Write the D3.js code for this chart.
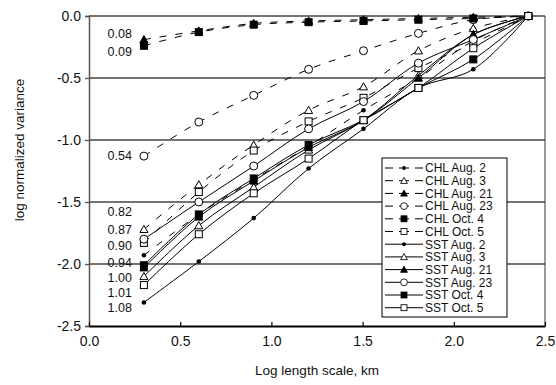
<!DOCTYPE html>
<html>
<head>
  <meta charset="utf-8" />
  <title>Variance vs length scale</title>
  <style>
    body { margin: 0; background: #fff; }
    text { font-family: "Liberation Sans", Arial, sans-serif; fill: #111; }
  </style>
  <script src="https://cdnjs.cloudflare.com/ajax/libs/d3/7.8.5/d3.min.js"></script>
</head>
<body>
  <div id="chart"></div>
  <script>
    // log2 length steps (km)
    var xs = [0.301, 0.602, 0.903, 1.204, 1.505, 1.806, 2.107, 2.408];

    var names = ['CHL Aug. 2', 'CHL Aug. 3', 'CHL Aug. 21', 'CHL Aug. 23', 'CHL Oct. 4', 'CHL Oct. 5',
                 'SST Aug. 2', 'SST Aug. 3', 'SST Aug. 21', 'SST Aug. 23', 'SST Oct. 4', 'SST Oct. 5'];
    var shapes = ['dot', 'tri', 'trif', 'circ', 'sqf', 'sq', 'dot', 'tri', 'trif', 'circ', 'sqf', 'sq'];

    var chlAug2  = [-1.93, -1.60, -1.32, -1.05, -0.76, -0.50, -0.20, 0];
    var chlAug3  = [-1.72, -1.36, -1.04, -0.76, -0.57, -0.28, -0.10, 0];
    var chlAug21 = [-0.19, -0.12, -0.06, -0.04, -0.03, -0.02, -0.01, 0];
    var chlAug23 = [-1.13, -0.855, -0.64, -0.43, -0.28, -0.14, -0.03, 0];
    var chlOct4  = [-0.24, -0.13, -0.07, -0.05, -0.04, -0.03, -0.02, 0];
    var chlOct5  = [-1.83, -1.42, -1.085, -0.85, -0.66, -0.42, -0.22, 0];
    var sstAug2  = [-2.31, -1.98, -1.63, -1.23, -0.91, -0.58, -0.43, 0];
    var sstAug3  = [-2.10, -1.69, -1.38, -1.08, -0.84, -0.48, -0.15, 0];
    var sstAug21 = [-2.03, -1.62, -1.33, -1.06, -0.84, -0.50, -0.15, 0];
    var sstAug23 = [-1.80, -1.50, -1.21, -0.91, -0.69, -0.38, -0.19, 0];
    var sstOct4  = [-2.01, -1.60, -1.31, -1.04, -0.84, -0.58, -0.35, 0];
    var sstOct5  = [-2.17, -1.76, -1.43, -1.15, -0.84, -0.58, -0.26, 0];

    var allSeries = [chlAug2, chlAug3, chlAug21, chlAug23, chlOct4, chlOct5,
                     sstAug2, sstAug3, sstAug21, sstAug23, sstOct4, sstOct5];

    // slope labels at the left of the first points
    var slopeText = ['0.08', '0.09', '0.54', '0.82', '0.87', '0.90', '0.94', '1.00', '1.01', '1.08'];
    var slopeY    = [-0.14, -0.29, -1.13, -1.58, -1.72, -1.85, -1.99, -2.11, -2.23, -2.35];
    var slopeX = 0.235;

    var xTicks = [0, 0.5, 1.0, 1.5, 2.0, 2.5];
    var yTicks = [0, -0.5, -1.0, -1.5, -2.0, -2.5];

    var W = 556, H = 385;
    var margin = { top: 16, right: 11, bottom: 59, left: 89 };
    var w = W - margin.left - margin.right,
      h = H - margin.top - margin.bottom;

    var svg = d3.select('#chart').append('svg')
      .attr('width', W).attr('height', H);
    var g = svg.append('g').attr('transform', 'translate(' + margin.left + ',' + margin.top + ')');

    var x = d3.scaleLinear().domain([0, 2.5]).range([0, w]);
    var y = d3.scaleLinear().domain([-2.5, 0]).range([h, 0]);

    // gridlines
    g.selectAll('.grid').data(yTicks.slice(0, 5)).enter().append('line')
      .attr('x1', 0).attr('x2', w)
      .attr('y1', d => y(d)).attr('y2', d => y(d))
      .attr('stroke', '#444').attr('stroke-width', 1.3);

    // right border
    g.append('line').attr('x1', w).attr('x2', w).attr('y1', 0).attr('y2', h)
      .attr('stroke', '#333').attr('stroke-width', 1);

    // y axis
    var yAxis = d3.axisLeft(y).tickValues(yTicks).tickSize(4).tickPadding(4);
    var ya = g.append('g').call(yAxis);
    ya.select('.domain').attr('stroke', '#555').attr('stroke-width', 1.5);
    ya.selectAll('.tick line').attr('stroke', '#555').attr('stroke-width', 1.3);
    ya.selectAll('text').attr('font-size', 14).attr('font-family', '"Liberation Sans", Arial, sans-serif')
      .text(d => d3.format('.1f')(d).replace('−', '-'));

    // x axis
    var xAxis = d3.axisBottom(x).tickValues(xTicks).tickFormat(d3.format('.1f')).tickSizeInner(-4).tickSizeOuter(0).tickPadding(10);
    var xa = g.append('g').attr('transform', 'translate(0,' + h + ')').call(xAxis);
    xa.select('.domain').attr('stroke', '#000').attr('stroke-width', 2);
    xa.selectAll('.tick line').attr('stroke', '#000').attr('stroke-width', 1.2);
    xa.selectAll('text').attr('font-size', 14).attr('font-family', '"Liberation Sans", Arial, sans-serif');

    // axis titles
    svg.append('text').attr('x', margin.left + w / 2).attr('y', 375)
      .attr('text-anchor', 'middle').attr('font-size', 13.5).text('Log length scale, km');
    svg.append('text').attr('transform', 'translate(24,' + 150 + ') rotate(-90)')
      .attr('text-anchor', 'middle').attr('font-size', 13.5).text('log normalized variance');

    // markers
    function marker(sel, type) {
      if (type === 'dot') {
        sel.append('circle').attr('r', 2.3).attr('fill', '#000');
      } else if (type === 'circ') {
        sel.append('circle').attr('r', 4).attr('fill', '#fff').attr('stroke', '#000').attr('stroke-width', 1);
      } else if (type === 'sq' || type === 'sqf') {
        sel.append('rect').attr('x', -3.5).attr('y', -3.5).attr('width', 7).attr('height', 7)
          .attr('fill', type === 'sqf' ? '#000' : '#fff').attr('stroke', '#000').attr('stroke-width', 1);
      } else {
        sel.append('path').attr('d', 'M0,-4L4,3.2L-4,3.2Z')
          .attr('fill', type === 'trif' ? '#000' : '#fff').attr('stroke', '#000').attr('stroke-width', 1);
      }
    }

    var line = d3.line()
      .x((d, i) => x(xs[i]))
      .y(d => y(d))
      .curve(d3.curveCatmullRom.alpha(0.5));

    allSeries.forEach(function (vals, k) {
      g.append('path').datum(vals)
        .attr('d', line)
        .attr('fill', 'none')
        .attr('stroke', '#000')
        .attr('stroke-width', 1)
        .attr('stroke-dasharray', k < 6 ? '7,9' : null);
    });
    allSeries.forEach(function (vals, k) {
      vals.forEach(function (v, i) {
        var m = g.append('g').attr('transform', 'translate(' + x(xs[i]) + ',' + y(v) + ')');
        marker(m, shapes[k]);
      });
    });

    // slope labels
    g.selectAll('.slope').data(slopeText).enter().append('text')
      .attr('x', x(slopeX)).attr('y', (d, i) => y(slopeY[i]))
      .attr('dy', '0.35em').attr('text-anchor', 'end').attr('font-size', 12.5)
      .text(d => d);

    // legend
    var lg = svg.append('g').attr('transform', 'translate(382,158)');
    lg.append('rect').attr('width', 125).attr('height', 159)
      .attr('fill', '#fff').attr('stroke', '#000').attr('stroke-width', 1);
    names.forEach(function (n, k) {
      var ry = 10 + k * 12.7;
      lg.append('line').attr('x1', 3).attr('x2', 41).attr('y1', ry).attr('y2', ry)
        .attr('stroke', '#000').attr('stroke-width', 1)
        .attr('stroke-dasharray', k < 6 ? '8,6,10,6,8' : null);
      var m = lg.append('g').attr('transform', 'translate(22,' + ry + ') scale(0.85)');
      marker(m, shapes[k]);
      lg.append('text').attr('x', 43).attr('y', ry).attr('dy', '0.36em')
        .attr('font-size', 12).text(n);
    });
  </script>
</body>
</html>
